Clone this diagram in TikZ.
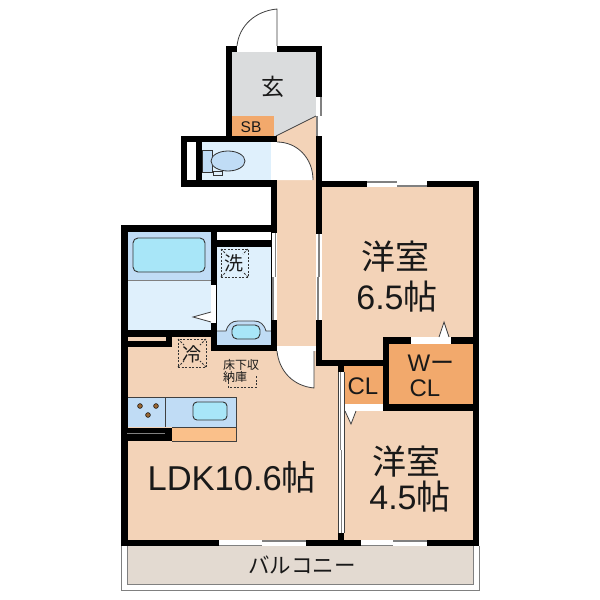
\documentclass[tikz,border=0pt]{standalone}
\usepackage{fontspec}
\setmainfont{Liberation Sans}
\newfontfamily\cjk{Noto Sans CJK JP}
\definecolor{floorpeach}{HTML}{F3D3B8}
\definecolor{floorgray}{HTML}{DADCDD}
\definecolor{storage}{HTML}{F2A96C}
\definecolor{wetlight}{HTML}{DFF0FC}
\definecolor{wetdark}{HTML}{C0DCF5}
\definecolor{basin}{HTML}{A8E6F8}
\definecolor{kitchen}{HTML}{FAC08A}
\definecolor{balcony}{HTML}{E3DAD1}
\definecolor{linegray}{HTML}{808080}
\newcommand{\fs}[1]{\fontsize{#1}{#1}\selectfont}
\tikzset{
  wall/.style ={fill=black},
  opening/.style ={fill=white},
  slidebar/.style ={fill=linegray},
  thinline/.style ={draw=black!75, line width=0.8pt},
  fixture/.style ={draw=black!80, line width=0.9pt, rounded corners=5pt, fill=basin},
  dashbox/.style ={draw=black!80, line width=0.9pt, dash pattern=on 2pt off 1.5pt},
  lbl/.style ={inner sep=0pt, text=black!90}
}
\begin{document}
\begin{tikzpicture}[x=1pt, y=-1pt]
   \useasboundingbox[fill=white] (0,0) rectangle (600,600);
   % floors
   \fill[floorpeach] (127,347) rectangle (338,540);
   \fill[floorpeach] (277,136) rectangle (316,351);
   \fill[floorpeach] (322,187) rectangle (473,360);
   \fill[floorpeach] (344,411) rectangle (473,540);
   \fill[floorpeach] (172,337) rectangle (211,351);
   \fill[floorpeach] (127,337) rectangle (166,341);
   \fill[floorgray] (232,52) -- (316,52) -- (316,116) -- (276,136) -- (232,136) -- cycle;
   \fill[floorpeach] (316,116) -- (316,136) -- (276,136) -- cycle;
   \fill[storage] (232,116) rectangle (274,136);
   \fill[storage] (344,366) rectangle (383,404);
   \fill[storage] (389,344) rectangle (473,404);
   \fill[wetlight] (202,142) rectangle (271,180);
   \fill[wetlight] (127,232) rectangle (211,330);
   \fill[wetdark] (127,232) rectangle (211,280);
   \draw[draw=linegray, line width=0.6pt] (127,280) -- (211,280);
   \fill[wetlight] (217,247) rectangle (271,345);
   \fill[wetdark] (217,331) -- (226,331) .. controls (228,324) and (232,321) .. (238,321) -- (254,321) .. controls (260,321) and (264,324) .. (266,331) -- (271,331) -- (271,345) -- (217,345) -- cycle;
   \draw[thinline] (217,331) -- (226,331) .. controls (228,324) and (232,321) .. (238,321) -- (254,321) .. controls (260,321) and (264,324) .. (266,331) -- (271,331);
   \fill[balcony] (127,546) rectangle (473,584);
   % fixtures
   \draw[fixture] (133,238) rectangle (205,272);
   \draw[fixture] (232,325) rectangle (260,339);
   \draw[draw=black!80, line width=0.8pt, fill=wetdark] (202,150) rectangle (212,172);
   \draw[draw=black!80, line width=0.8pt, fill=wetdark] (228,161) ellipse (17 and 10);
   \draw[draw=black!80, line width=0.6pt, fill=wetlight] (213,171) rectangle (222,175);
   \fill[wetdark] (127,397) rectangle (236,427);
   \draw[thinline] (236,397) -- (127,397);
   \draw[thinline] (236,397) -- (236,427);
   \draw[thinline] (165,397) -- (165,427);
   \draw[fixture, rounded corners=4pt] (193,402) rectangle (227,420);
   \draw[draw=black, fill=brown!80!black, line width=0.5pt] (140,406) circle (2.4);
   \draw[draw=black, fill=brown!80!black, line width=0.5pt] (156,406) circle (2.4);
   \draw[draw=black, fill=brown!80!black, line width=0.5pt] (148,415) circle (2.4);
   \fill[kitchen] (172,428) rectangle (236,441);
   \draw[thinline] (172,427) -- (236,427) -- (236,441) -- (172,441);
   % dashed appliance spaces
   \draw[dashbox] (221,249) rectangle (248,277);
   \draw[dashbox] (178,339) rectangle (206,367);
   \draw[dashbox] (178,339) -- (184,345);
   \draw[dashbox] (206,339) -- (200,345);
   \draw[dashbox] (178,367) -- (184,361);
   \draw[dashbox] (206,367) -- (200,361);
   \draw[dashbox] (221,249) -- (226,254);
   \draw[dashbox] (248,249) -- (243,254);
   \draw[dashbox] (221,277) -- (226,272);
   \draw[dashbox] (248,277) -- (243,272);
   \draw[dashbox] (228,375) -- (228,387) -- (256,387) -- (256,375);
   % door swings
   \fill[white] (277,142) .. controls (297,142) and (313,158) .. (313,180) -- (277,180) -- cycle;
   \draw[thinline] (277,142) .. controls (297,142) and (313,158) .. (313,180);
   \fill[white] (277,351) .. controls (279,371) and (293,386) .. (314,388) -- (314,351) -- cycle;
   \draw[thinline] (277,351) .. controls (279,371) and (293,386) .. (314,388) -- (314,351);
   \draw[thinline] (277,46) -- (277,9) .. controls (255,11) and (239,26) .. (237,46);
   \draw[thinline] (276,136) -- (316,116);
   % walls
   \fill[wall] (226,46) rectangle (322,52);
   \fill[wall] (226,46) rectangle (232,136);
   \fill[wall] (316,46) rectangle (322,366);
   \fill[wall] (181,136) rectangle (277,142);
   \fill[wall] (181,180) rectangle (277,187);
   \fill[wall] (181,136) rectangle (187,187);
   \fill[wall] (196,142) rectangle (202,180);
   \fill[wall] (271,136) rectangle (277,351);
   \fill[wall] (121,225) rectangle (277,232);
   \fill[wall] (121,225) rectangle (127.5,546);
   \fill[wall] (211,232) rectangle (217,351);
   \fill[wall] (211,240) rectangle (271,247);
   \fill[wall] (121,330) rectangle (217,337);
   \fill[wall] (121,341) rectangle (172,347);
   \fill[wall] (166,337) rectangle (172,347);
   \fill[wall] (211,345) rectangle (277,351);
   \fill[wall] (127,428) rectangle (172,441);
   \fill[wall] (316,181) rectangle (479,187);
   \fill[wall] (473,181) rectangle (479,546);
   \fill[wall] (316,360) rectangle (389,366);
   \fill[wall] (383,337) rectangle (473,344);
   \fill[wall] (383,337) rectangle (389,411);
   \fill[wall] (383,404) rectangle (479,411);
   \fill[wall] (338,360) rectangle (344,372);
   \fill[wall] (338,533) rectangle (344,546);
   \fill[wall] (121,540) rectangle (479,546);
   \draw[draw=linegray, line width=0.7pt] (127,433) -- (165,433);
   % openings
   \fill[opening] (237,46) rectangle (277,52);
   \fill[opening] (316,97) rectangle (322,136);
   \fill[slidebar] (319.5,97) rectangle (322,116);
   \fill[slidebar] (316,116) rectangle (318,136);
   \fill[opening] (271,142) rectangle (277,180);
   \fill[opening] (187,142) rectangle (196,180);
   \fill[opening] (217,232) rectangle (271,240);
   \fill[opening] (211,285) rectangle (216,323);
   \fill[opening] (271.5,233) rectangle (277,320);
   \fill[slidebar] (272,277) rectangle (274,320);
   \fill[slidebar, dash pattern=on 2pt off 2pt] (275,233) rectangle (276,277);
   \fill[opening] (316,234) rectangle (322,320);
   \fill[slidebar] (317,277) rectangle (319,320);
   \fill[slidebar, dash pattern=on 2pt off 2pt] (318,234) rectangle (320,277);
   \fill[opening] (277,346) rectangle (316,351);
   \fill[opening] (344,404) rectangle (383,411);
   \fill[opening] (411,337) rectangle (451,344);
   \fill[opening] (338,372) rectangle (344,533);
   \fill[linegray] (340,372) rectangle (341,450);
   \fill[linegray] (341,450) rectangle (342,533);
   \draw[thinline] (338,372) -- (338,533);
   \draw[thinline] (344,372) -- (344,533);
   % windows
   \fill[opening] (367,181) rectangle (427,187);
   \fill[linegray] (367,181) rectangle (397,182.5);
   \fill[linegray] (397,185) rectangle (427,187);
   \fill[opening] (219,540) rectangle (306,546);
   \fill[linegray] (219,544.5) rectangle (262,546);
   \fill[linegray] (262,540) rectangle (306,541.5);
   \fill[opening] (361,540) rectangle (427,546);
   \fill[linegray] (361,544.5) rectangle (393,546);
   \fill[linegray] (393,540) rectangle (427,541.5);
   % balcony edge
   \draw[draw=linegray, line width=0.9pt] (121,546) -- (121,590.5) -- (479,590.5) -- (479,546);
   \draw[draw=linegray, line width=0.9pt] (127.5,546) -- (127.5,584) -- (473,584) -- (473,546);
   % door arrows
   \draw[thinline, fill=white] (211,312) -- (193,317) -- (211,322);
   \draw[thinline, fill=white] (439,337) -- (444,322) -- (449,337);
   \draw[thinline, fill=white] (345,411) -- (351,424) -- (356,411);
   % labels
   \node[lbl] (genkan) at (273,87) {\cjk\fs{23}玄};
   \node[lbl] (sb) at (251,127) {\fs{15.5}SB};
   \node[lbl] (wash) at (234,263) {\cjk\fs{19}洗};
   \node[lbl] (fridge) at (192,354) {\cjk\fs{19}冷};
   \node[lbl, align=left] (floorstore) at (241,371) {\cjk\fs{12}床下収\\[-0.5pt]\cjk\fs{12}納庫\hspace{12pt}};
   \node[lbl] (room65a) at (395,257) {\cjk\fs{34}洋室};
   \node[lbl] (room65b) at (397,297) {\fs{34}6.5{\cjk 帖}};
   \node[lbl] (room45a) at (406,462) {\cjk\fs{34}洋室};
   \node[lbl] (room45b) at (410,497) {\fs{34}4.5{\cjk 帖}};
   \node[lbl] (ldk) at (232,477) {\fs{34.5}LDK10.6{\cjk 帖}};
   \node[lbl] (cl) at (363,386) {\fs{24}CL};
   \node[lbl] (wcla) at (431,363) {\fs{24}W{\cjk ー}};
   \node[lbl] (wclb) at (425,388) {\fs{24}CL};
   \node[lbl] (balc) at (302,565) {\cjk\fs{21.5}バルコニー};
 \end{tikzpicture}
\end{document}
